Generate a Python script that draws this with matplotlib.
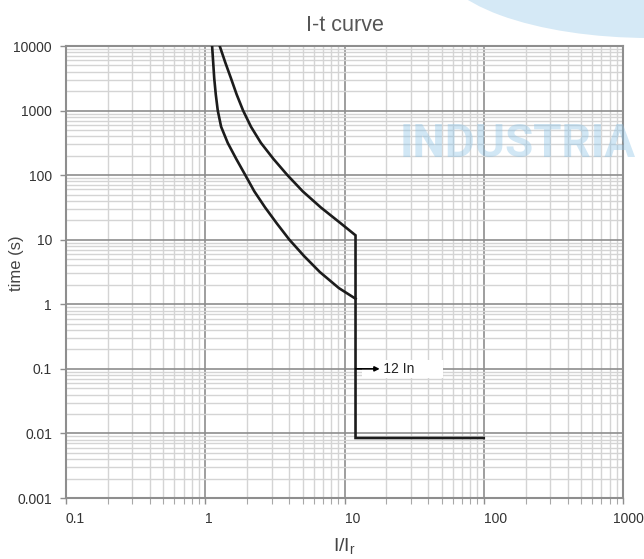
import matplotlib
matplotlib.use("Agg")
import matplotlib.pyplot as plt
from matplotlib.patches import Ellipse
from matplotlib.ticker import FixedLocator, NullFormatter, LogLocator
from matplotlib.transforms import ScaledTranslation

plt.rcParams['font.family'] = ['Liberation Sans', 'DejaVu Sans']
plt.rcParams['mathtext.fontset'] = 'custom'
plt.rcParams['mathtext.rm'] = 'Liberation Sans'
plt.rcParams['mathtext.it'] = 'Liberation Sans'
plt.rcParams['mathtext.default'] = 'regular'

# ---- data ----
upper_I = [1.27, 1.39, 1.53, 1.68, 1.87, 2.13, 2.51, 3.09, 3.89, 5.01, 6.76, 9.44, 12]
upper_t = [10000, 5620, 3160, 1780, 1000, 562, 316, 178, 100, 56.2, 31.6, 17.8, 11.7]
lower_I = [1.12, 1.16, 1.19, 1.23, 1.30, 1.45, 1.67, 1.94, 2.25, 2.69, 3.27, 4.02,
           5.11, 6.65, 9.12, 12]
lower_t = [10000, 3160, 1780, 1000, 562, 316, 178, 100, 56.2, 31.6, 17.8, 10,
           5.62, 3.16, 1.78, 1.22]
inst_I = [12, 12, 100]
inst_t = [11.7, 0.0085, 0.0085]
x_ticks = [0.1, 1, 10, 100, 1000]
x_ticklabels = ["0.1", "1", "10", "100", "1000"]
y_ticks = [0.001, 0.01, 0.1, 1, 10, 100, 1000, 10000]
y_ticklabels = ["0.001", "0.01", "0.1", "1", "10", "100", "1000", "10000"]
annot_I = 12
annot_t = 0.1
annot_text = "12 In"
title = "I-t curve"
xlabel = r"I/I$_\mathregular{r}$"
ylabel = "time (s)"
watermark = "INDUSTRIA"

W, H = 644, 559
fig = plt.figure(figsize=(W / 100, H / 100), dpi=100)
ax = fig.add_axes([66 / W, 1 - 498 / H, (623 - 66) / W, (498 - 46) / H])

ax.set_xscale('log')
ax.set_yscale('log')
ax.set_xlim(0.1, 1000)
ax.set_ylim(0.001, 10000)

major_grid = '#8e8e8e'
minor_grid = '#d4d4d4'
ax.xaxis.set_major_locator(FixedLocator(x_ticks))
ax.yaxis.set_major_locator(FixedLocator(y_ticks))
ax.xaxis.set_minor_locator(LogLocator(base=10, subs=range(2, 10), numticks=20))
ax.yaxis.set_minor_locator(LogLocator(base=10, subs=range(2, 10), numticks=20))
ax.xaxis.set_minor_formatter(NullFormatter())
ax.yaxis.set_minor_formatter(NullFormatter())
ax.set_xticklabels(x_ticklabels)
ax.set_yticklabels(y_ticklabels)

ax.grid(which='minor', color=minor_grid, linewidth=1.0, zorder=0)
ax.grid(which='major', color=major_grid, linewidth=1.2, zorder=0)
ax.set_axisbelow(True)

for s in ax.spines.values():
    s.set_color(major_grid)
    s.set_linewidth(1.5)

ax.tick_params(axis='both', which='major', direction='out', length=4,
               width=1.0, color=major_grid, labelsize=10, labelcolor='#333333')
ax.tick_params(axis='x', which='major', pad=6)
ax.tick_params(axis='y', which='major', pad=6)
ax.tick_params(axis='x', which='minor', direction='out', length=4,
               width=0.8, color='#a8a8a8')
ax.tick_params(axis='y', which='minor', length=0)

for lab in ax.get_xticklabels():
    lab.set_horizontalalignment('left')
last = ax.get_xticklabels()[-1]
last.set_transform(last.get_transform() + ScaledTranslation(-10 / 100, 0, fig.dpi_scale_trans))

# curves
ax.plot(upper_I + inst_I[1:], upper_t + inst_t[1:], color='#1c1c1c', lw=1.9,
        solid_joinstyle='miter', zorder=4)
ax.plot(lower_I, lower_t, color='#1c1c1c', lw=1.9, zorder=4)

# annotation
ax.annotate('', xy=(17.9, annot_t), xytext=(annot_I, annot_t),
            arrowprops=dict(arrowstyle='-|>', color='black', lw=1.2,
                            mutation_scale=7, shrinkA=0, shrinkB=0), zorder=6)
ax.text(13.7, annot_t, "     " + annot_text + "       ", ha='left', va='center',
        fontsize=10, color='#222222', zorder=5,
        bbox=dict(boxstyle='square,pad=0.12', fc='white', ec='none'))

ax.set_title(title, fontsize=15.5, color='#555555', pad=11)
ax.set_xlabel(xlabel, fontsize=14, color='#444444', labelpad=7)
ax.set_ylabel(ylabel, fontsize=12, color='#444444')
ax.yaxis.set_label_coords(-0.075, 0.52)

# watermark
ell = Ellipse((650 / W, 1 + 40 / H), 424 / W, 156 / H, transform=fig.transFigure,
              facecolor='#d5e9f6', edgecolor='none', zorder=-5)
fig.patches.append(ell)
fig.text(400 / W, 1 - 157 / H, watermark, fontsize=33, fontweight='bold',
         family=['Roboto', 'Liberation Sans'],
         color='#8cc3e6', alpha=0.4, ha='left', va='baseline', zorder=10)

fig.savefig('out.png', dpi=100)
